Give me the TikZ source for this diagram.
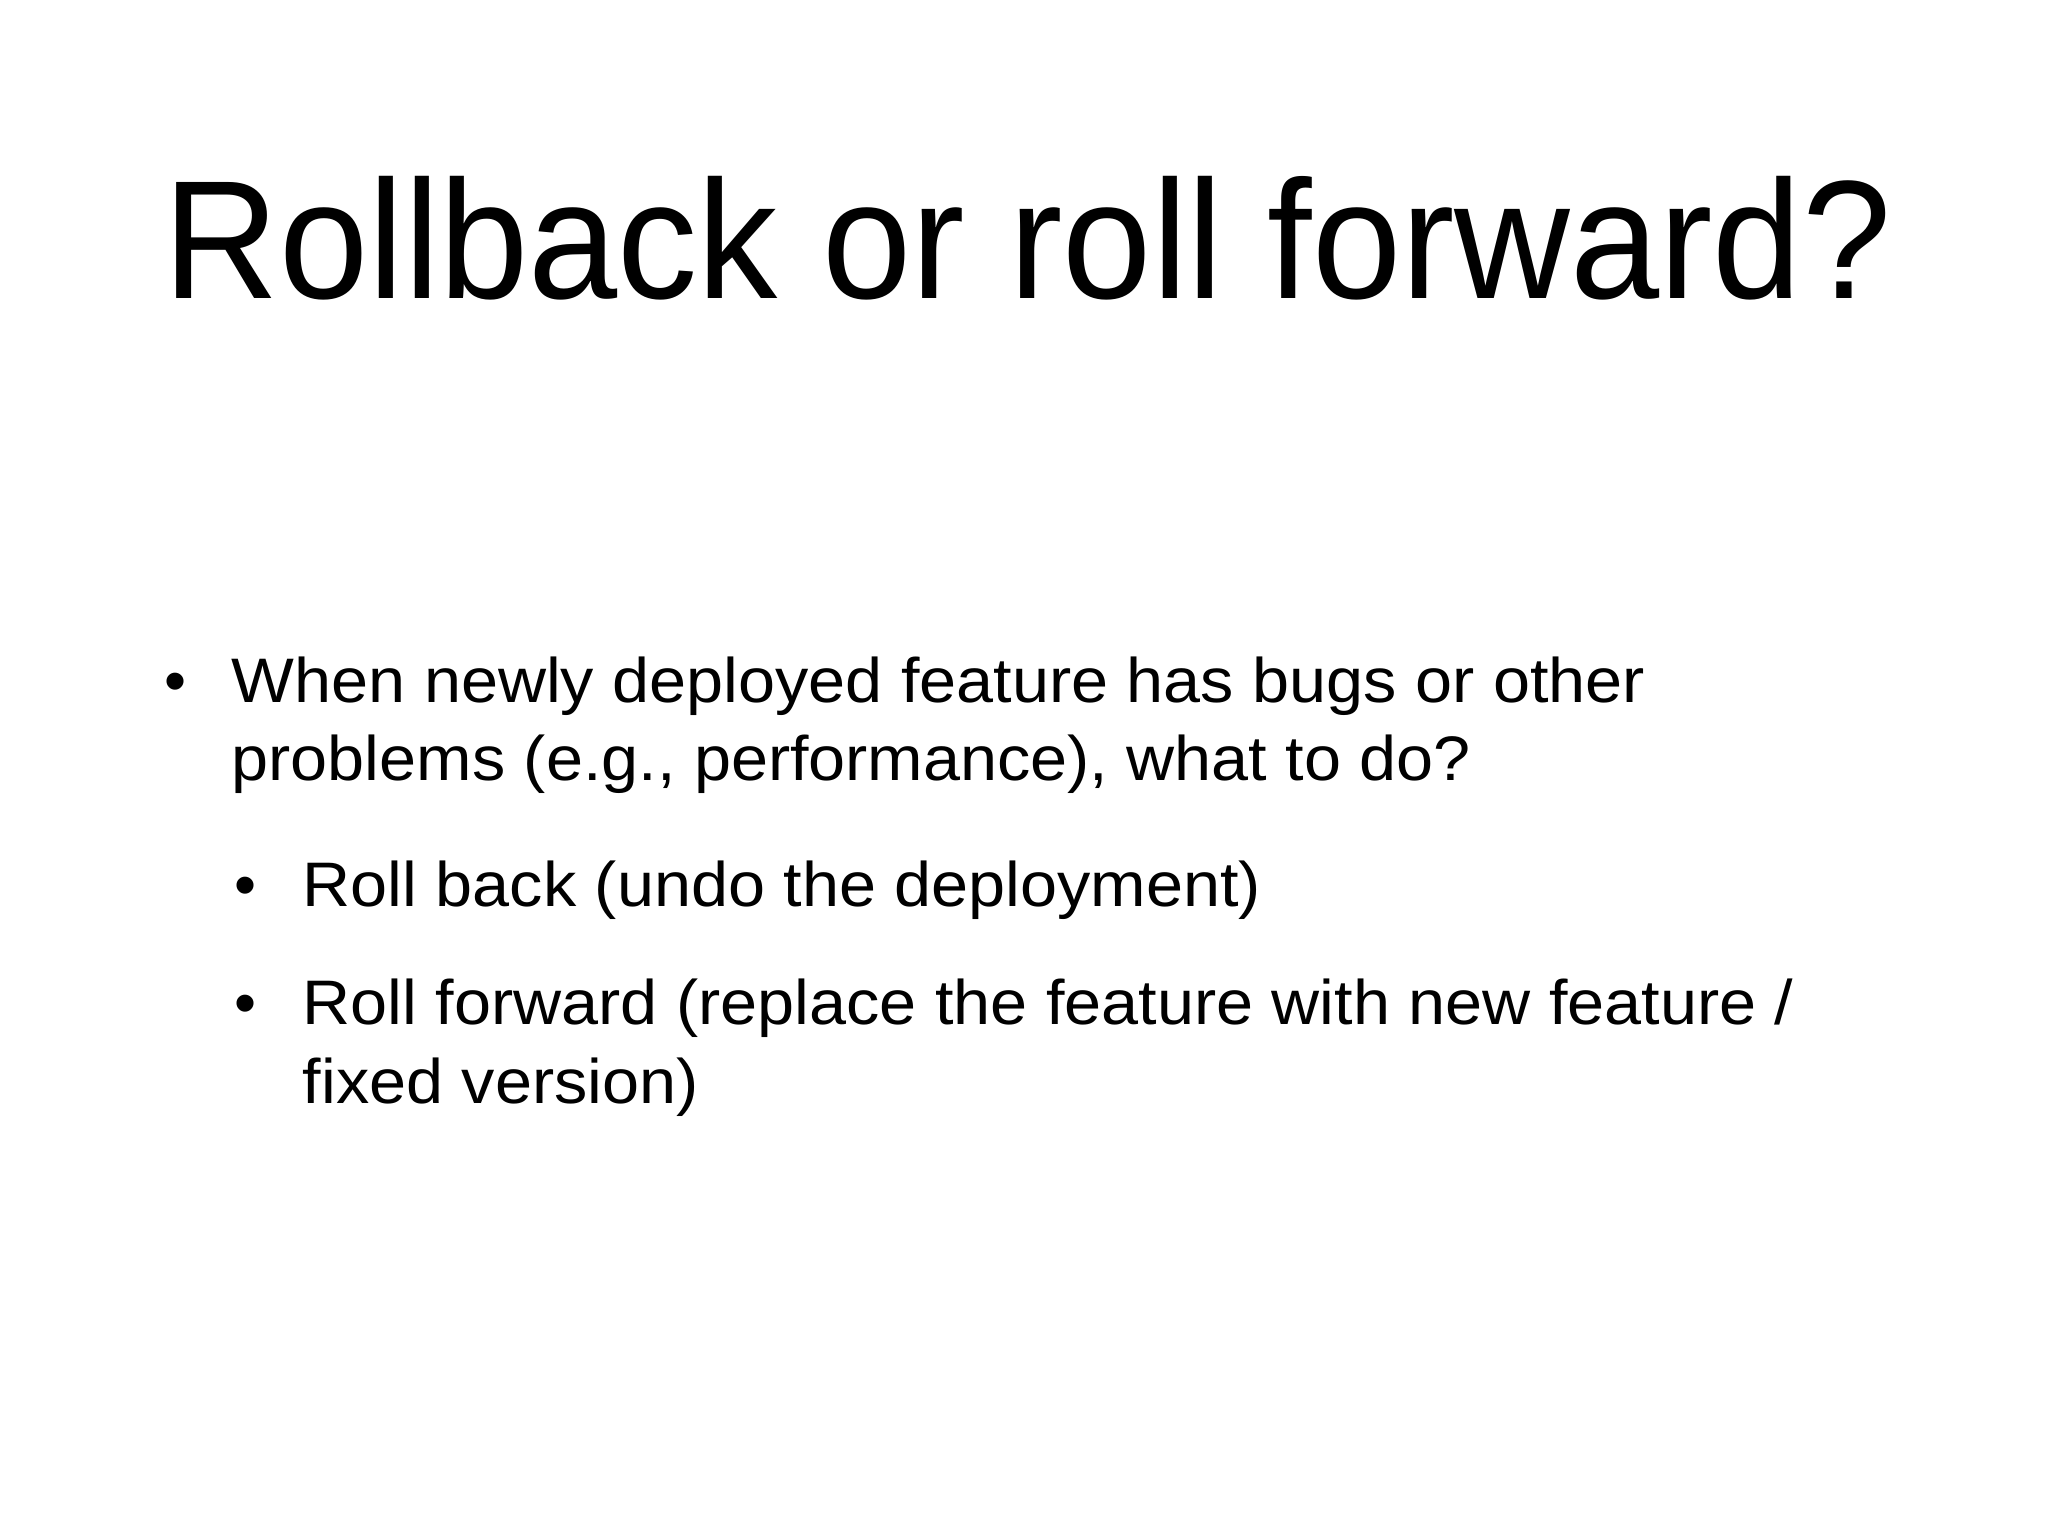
\documentclass[tikz,border=0pt]{standalone}
\usepackage{fontspec}
\setmainfont{Liberation Sans}
\begin{document}
\begin{tikzpicture}[x=1cm,y=-1cm,
  txt/.style={anchor=base west,inner sep=0pt,font=\fontsize{17.9}{21}\selectfont,xscale=1.058,transform shape},
  bul/.style={anchor=base,inner sep=0pt,font=\fontsize{17.9}{21}\selectfont}]
\fill[white] (0,0) rectangle (20.48,15.36);
\useasboundingbox (0,0) rectangle (20.48,15.36);
\node[anchor=base west,inner sep=0pt,font=\fontsize{48}{56}\selectfont,xscale=0.95,transform shape] (title) at (1.63,2.99) {Rollback or roll forward?};
\node[bul] (b1) at (1.76,7.02) {•};
\node[txt] (t1) at (2.31,7.02) {When newly deployed feature has bugs or other};
\node[txt] (t1b) at (2.31,7.81) {problems (e.g., performance), what to do?};
\node[bul] (b2) at (2.46,9.06) {•};
\node[txt] (t2) at (3.02,9.06) {Roll back (undo the deployment)};
\node[bul] (b3) at (2.46,10.24) {•};
\node[txt] (t3) at (3.02,10.24) {Roll forward (replace the feature with new feature /};
\node[txt] (t3b) at (3.02,11.03) {fixed version)};
\end{tikzpicture}
\end{document}
